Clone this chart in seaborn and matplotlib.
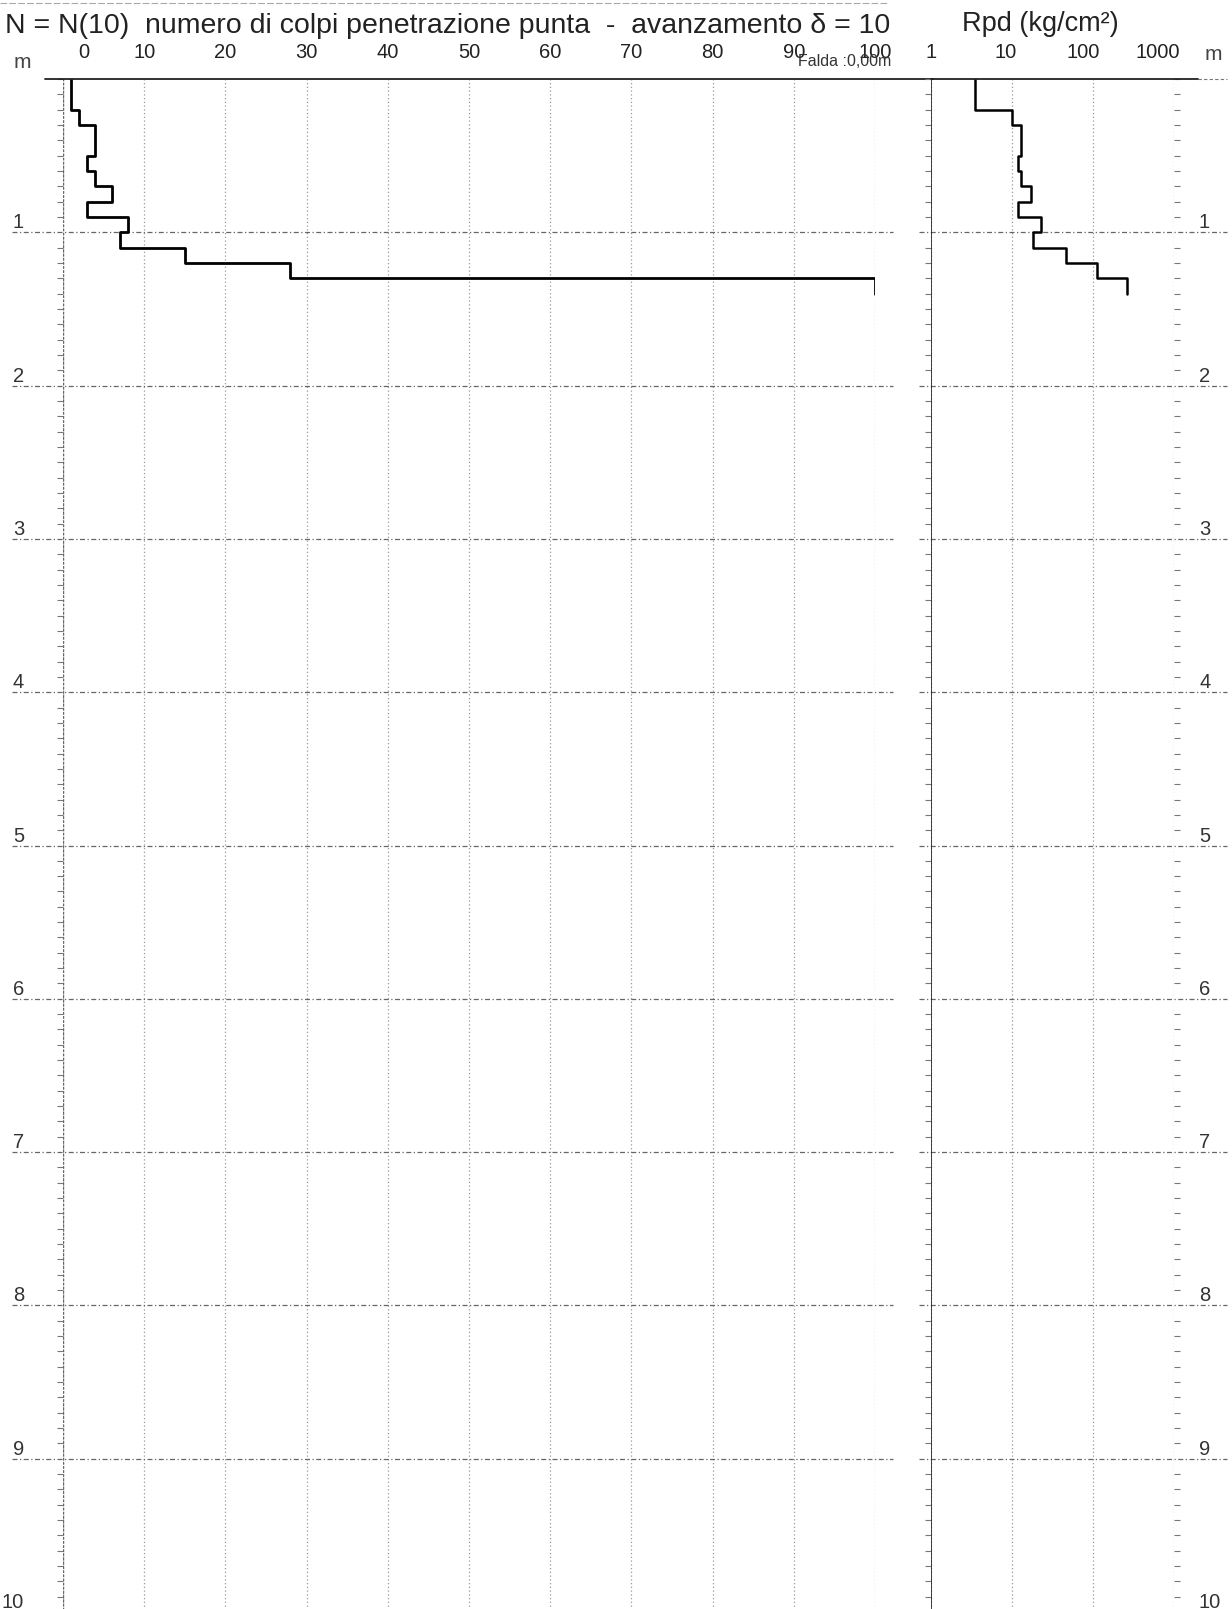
import numpy as np
import pandas as pd
import matplotlib
matplotlib.use("Agg")
import matplotlib.pyplot as plt
import matplotlib.transforms as mtransforms
import seaborn as sns

# dati prova penetrometrica (intervalli di 10 cm)
depth_top = [0.0, 0.1, 0.2, 0.3, 0.4, 0.5, 0.6, 0.7, 0.8, 0.9, 1.0, 1.1, 1.2, 1.3]
n_colpi = [1, 1, 2, 4, 4, 3, 4, 6, 3, 8, 7, 15, 28, 100]
rpd = [3.5, 3.5, 10, 13, 13, 11.7, 13, 17.3, 11.7, 22.7, 18.3, 47, 112, 265]
step = 0.1

n_ticks = [0, 10, 20, 30, 40, 50, 60, 70, 80, 90, 100]
rpd_ticks = [1, 10, 100, 1000]
depth_ticks = [1, 2, 3, 4, 5, 6, 7, 8, 9, 10]

title_left = "N = N(10)  numero di colpi penetrazione punta  -  avanzamento \u03b4 = 10"
title_right = "Rpd (kg/cm\u00b2)"
falda = "Falda :0,00m"

sns.set_style("white")
plt.rcParams["font.family"] = ["Liberation Sans", "DejaVu Sans"]

W, H = 1232, 1609
fig = plt.figure(figsize=(W / 100, H / 100), dpi=100)
fig.patch.set_facecolor("white")

top_px, bot_px = 79, 1612
y0 = 1 - bot_px / H
hh = (bot_px - top_px) / H
ax = fig.add_axes([63 / W, y0, (875 - 63) / W, hh])
ax2 = fig.add_axes([931 / W, y0, (1174 - 931) / W, hh])

# profilo a gradini
def steps(vals):
    xs = np.repeat(vals, 2)
    ys = np.ravel([[d, d + step] for d in depth_top])
    return pd.DataFrame({"x": xs, "depth": ys})

df_n = steps(n_colpi)
df_r = steps(rpd)
sns.lineplot(data=df_n, x="x", y="depth", sort=False, estimator=None,
             color="black", lw=2.0, ax=ax)
sns.lineplot(data=df_r, x="x", y="depth", sort=False, estimator=None,
             color="black", lw=1.8, ax=ax2)

hgrid = dict(color="#666666", lw=0.9, ls=(0, (4, 2, 1, 2)), clip_on=False, zorder=1)
vgrid = dict(color="#9a9a9a", lw=0.9, ls=(0, (1, 2)), zorder=1)

# pannello N
ax.set_xlim(0, 100)
ax.set_ylim(10, 0)
ax.set_xticks(n_ticks)
ax.set_xticklabels([str(t) for t in n_ticks])
ax.xaxis.tick_top()
ax.tick_params(axis="x", which="major", length=0, pad=12, labelsize=14.5, colors="#222222")
ax.set_yticks(depth_ticks)
ax.set_yticklabels([str(t) for t in depth_ticks])
ax.set_yticks(np.arange(0, 10.01, 0.1), minor=True)
ax.tick_params(axis="y", which="major", length=0, pad=28, labelsize=14.5, colors="#333333")
ax.tick_params(axis="y", which="minor", length=4, width=0.8, color="#777777", left=True)
for lab in ax.get_yticklabels():
    lab.set_va("bottom")
for t in n_ticks:
    ax.axvline(t, **vgrid)
ax.axvline(0, color="#666666", lw=1.0, ls=(0, (2, 1)), zorder=2)
for d in depth_ticks:
    ax.axhline(d, xmin=-0.063, xmax=1.022, **hgrid)
ax.axhline(0, xmin=-0.022, xmax=1.072, color="#222222", lw=1.3, clip_on=False, zorder=3)
lab0 = ax.get_xticklabels()[0]
lab0.set_transform(lab0.get_transform() + mtransforms.ScaledTranslation(0.21, 0, fig.dpi_scale_trans))
ax.set_xlabel("")
ax.set_ylabel("")

# pannello Rpd (log)
ax2.set_xscale("log")
ax2.set_xlim(1, 1000)
ax2.set_ylim(10, 0)
ax2.set_xticks(rpd_ticks)
ax2.set_xticklabels([str(t) for t in rpd_ticks])
ax2.xaxis.set_minor_locator(matplotlib.ticker.NullLocator())
ax2.xaxis.tick_top()
ax2.tick_params(axis="x", which="major", length=0, pad=12, labelsize=14.5, colors="#222222")
for lab, dx in zip(ax2.get_xticklabels(), [0, -0.06, -0.10, -0.16]):
    lab.set_transform(lab.get_transform() + mtransforms.ScaledTranslation(dx, 0, fig.dpi_scale_trans))
ax2.set_yticks(depth_ticks)
ax2.set_yticklabels([str(t) for t in depth_ticks])
ax2.set_yticks(np.arange(0, 10.01, 0.1), minor=True)
ax2.tick_params(axis="y", which="major", length=0, left=False, right=False,
                labelleft=False, labelright=True, pad=18, labelsize=14.5, colors="#333333")
ax2.tick_params(axis="y", which="minor", length=4, width=0.8, color="#777777",
                left=True, right=True)
for lab in ax2.get_yticklabels():
    lab.set_va("bottom")
for t in rpd_ticks:
    ax2.axvline(t, **vgrid)
ax2.axvline(1, color="#222222", lw=1.2, zorder=2)
for d in depth_ticks:
    ax2.axhline(d, xmin=-0.05, xmax=1.22, **hgrid)
ax2.axhline(0, xmin=0, xmax=1.1, color="#222222", lw=1.3, clip_on=False, zorder=3)
ax2.axhline(0, xmin=1.1, xmax=1.22, color="#777777", lw=0.8, ls=(0, (3, 2)), clip_on=False)
ax2.set_xlabel("")
ax2.set_ylabel("")

for a in (ax, ax2):
    for s in a.spines.values():
        s.set_visible(False)
    a.set_facecolor("none")

# intestazioni
fig.text(5 / W, 1 - 26 / H, title_left, fontsize=20.5, va="center", ha="left", color="#222222")
fig.text(962 / W, 1 - 24 / H, title_right, fontsize=19.5, va="center", ha="left", color="#222222")
fig.text(14 / W, 1 - 63 / H, "m", fontsize=15, va="center", ha="left", color="#444444")
fig.text(1205 / W, 1 - 55 / H, "m", fontsize=15, va="center", ha="left", color="#444444")
fig.text(845 / W, 1 - 61 / H, falda, fontsize=11.5, va="center", ha="center", color="#333333")
fig.add_artist(plt.Line2D([0, 0.72], [1 - 3 / H, 1 - 3 / H], transform=fig.transFigure,
                          color="#aaaaaa", lw=0.8, ls=(0, (6, 2))))

plt.savefig("out.png", dpi=100, facecolor="white")
